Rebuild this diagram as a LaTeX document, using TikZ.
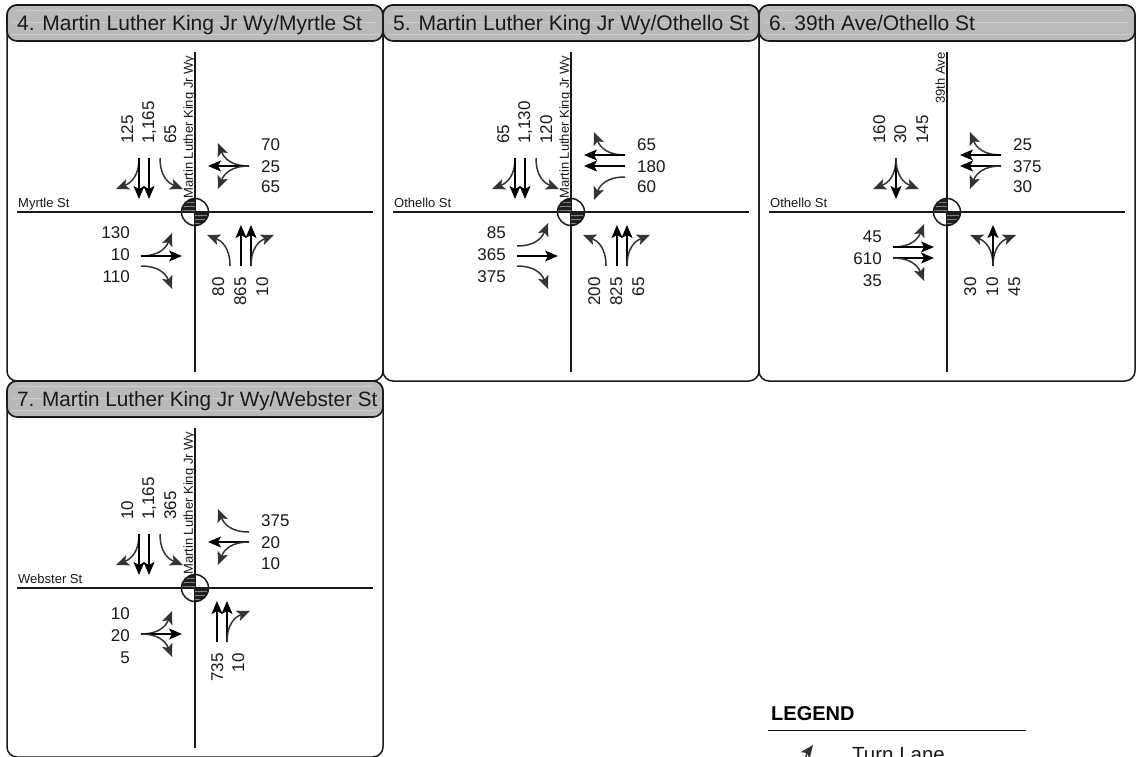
\documentclass[tikz,border=0pt]{standalone}
\usepackage{fontspec}
\setmainfont{Liberation Sans}
\usetikzlibrary{arrows.meta}
\definecolor{ink}{HTML}{1A1A1A}
\definecolor{headgray}{HTML}{B9B9B9}
\definecolor{streak}{HTML}{CCCCCC}
\tikzset{
  x=1pt,y=-1pt,
  border/.style={draw=ink,line width=1.5pt,rounded corners=10pt},
  head/.style={draw=ink,fill=headgray,line width=1.6pt,rounded corners=10pt},
  road/.style={draw=ink,line width=1.5pt},
  thru/.style={draw=black,line width=1.5pt,-{Stealth[length=13pt,width=11pt,inset=3pt]}},
  turn/.style={draw=black!80,line width=1.5pt,-{Stealth[length=13pt,width=11pt,inset=3pt]}},
  num/.style={inner sep=0pt,text=ink,font=\fontsize{17}{17}\selectfont,text height=12pt,text depth=0pt},
  street/.style={inner sep=0pt,text=ink,font=\fontsize{13}{13}\selectfont,text height=9.5pt,text depth=0pt},
  title/.style={inner sep=0pt,anchor=west,text=ink,font=\fontsize{21}{21}\selectfont,text height=15pt,text depth=0pt},
}
% arrows in the frame of a southbound approach; argument is the lane offset
\newcommand{\laneT}[1]{\draw[thru] (#1,-54) -- (#1,-13);}
\newcommand{\laneR}[1]{\draw[turn] (#1,-54) .. controls (#1,-36) and (#1-8,-29) .. (#1-23,-23);}
\newcommand{\laneL}[1]{\draw[turn] (#1,-54) .. controls (#1,-36) and (#1+8,-29) .. (#1+23,-23);}
\newcommand{\frombearing}[2]{\begin{scope}[rotate=#1]#2\end{scope}}
% panel frame: #1 id, #2 left, #3 top, #4 title
\newcommand{\panelframe}[4]{%
  \draw[border] (#2,#3) rectangle (#2+376,#3+376);
  \draw[head] (#2,#3) rectangle (#2+376,#3+36);
  \draw[streak,line width=0.7pt] (#2+10,#3+5) -- (#2+366,#3+5);
  \draw[streak,line width=0.7pt] (#2+6,#3+17) -- (#2+370,#3+17);
  \draw[streak,line width=0.7pt] (#2+4,#3+29) -- (#2+372,#3+29);
  \node[title] (#1-title) at (#2+10,#3+18) {#4};
}
% signal symbol and roads around the current origin
\newcommand{\crossing}[1]{%
  \coordinate (#1-n) at (0,-160);
  \coordinate (#1-s) at (0,160);
  \coordinate (#1-w) at (-178,0);
  \coordinate (#1-e) at (178,0);
  \draw[road] (#1-n) -- (#1-s);
  \draw[road] (#1-w) -- (#1-e);
  \begin{scope}
    \clip (0,0) circle[radius=13.5];
    \fill[black!88] (-13.5,-13.5) rectangle (0,0);
    \fill[black!88] (0,0) rectangle (13.5,13.5);
    \foreach \h in {-10,-6,-2}{\draw[black!50,line width=0.4pt] (-13.5,\h) -- (0,\h);}
    \foreach \h in {3,7,11}{\draw[black!50,line width=0.4pt] (0,\h) -- (13.5,\h);}
  \end{scope}
  \draw[road] (0,0) circle[radius=13.5];
}
% #1 id, #2-4 north labels, #5-7 east labels
\newcommand{\labelsN}[4]{%
  \node[num,rotate=90,anchor=west] (#1-n1) at (-68,-68) {#2};
  \node[num,rotate=90,anchor=west] (#1-n2) at (-47,-68) {#3};
  \node[num,rotate=90,anchor=west] (#1-n3) at (-25,-68) {#4};
}
\newcommand{\labelsE}[4]{%
  \node[num,anchor=west] (#1-e1) at (66,-68) {#2};
  \node[num,anchor=west] (#1-e2) at (66,-46) {#3};
  \node[num,anchor=west] (#1-e3) at (66,-25) {#4};
}
% #5 = y of first label
\newcommand{\labelsW}[5]{%
  \node[num,anchor=east] (#1-w1) at (-65,#5) {#2};
  \node[num,anchor=east] (#1-w2) at (-65,#5+22) {#3};
  \node[num,anchor=east] (#1-w3) at (-65,#5+44) {#4};
}
\newcommand{\labelsS}[4]{%
  \node[num,rotate=90,anchor=east] (#1-s1) at (23,65) {#2};
  \node[num,rotate=90,anchor=east] (#1-s2) at (45,65) {#3};
  \node[num,rotate=90,anchor=east] (#1-s3) at (67,65) {#4};
}
\newcommand{\namemlk}[1]{\node[street,rotate=90,anchor=west] (#1-v) at (-7,-13) {Martin Luther King Jr Wy};}
\newcommand{\namehoriz}[2]{\node[street,anchor=south west] (#1-h) at (-177,-4) {#2};}
\begin{document}
\begin{tikzpicture}
\useasboundingbox (0,0) rectangle (1138,757);
\clip (0,0) rectangle (1138,757);
\fill[white] (0,0) rectangle (1138,757);

\panelframe{a}{7}{5}{4. Martin Luther King Jr Wy/Myrtle St}
\panelframe{b}{383}{5}{\fontsize{21.1}{21.1}\selectfont 5. Martin Luther King Jr Wy/Othello St}
\panelframe{c}{759}{5}{6. 39th Ave/Othello St}
\panelframe{d}{7}{381}{\fontsize{20.7}{20.7}\selectfont 7. Martin Luther King Jr Wy/Webster St}

% Panel 4
\begin{scope}[shift={(195,212)}]
  \crossing{a}
  \namemlk{a}\namehoriz{a}{Myrtle St}
  \labelsN{a}{125}{1,165}{65}
  \labelsE{a}{70}{25}{65}
  \labelsW{a}{130}{10}{110}{20}
  \labelsS{a}{80}{865}{10}
  \laneR{-56}\laneT{-56}\laneT{-46}\laneL{-35}
  \frombearing{-90}{\laneR{-46}\laneT{-46}\laneL{-46}}
  \frombearing{90}{\laneL{-44}\laneT{-44}\laneR{-54}}
  \frombearing{180}{\laneL{-35}\laneT{-46}\laneT{-56}\laneR{-56}}
\end{scope}

% Panel 5
\begin{scope}[shift={(571,212)}]
  \crossing{b}
  \namemlk{b}\namehoriz{b}{Othello St}
  \labelsN{b}{65}{1,130}{120}
  \labelsE{b}{65}{180}{60}
  \labelsW{b}{85}{365}{375}{20}
  \labelsS{b}{200}{825}{65}
  \laneR{-56}\laneT{-56}\laneT{-46}\laneL{-35}
  \frombearing{-90}{\laneR{-57}\laneT{-57}\laneT{-46}\laneL{-35}}
  \frombearing{90}{\laneL{-34}\laneT{-44}\laneR{-54}}
  \frombearing{180}{\laneL{-35}\laneT{-46}\laneT{-56}\laneR{-56}}
\end{scope}

% Panel 6
\begin{scope}[shift={(947,212)}]
  \crossing{c}
  \node[street,rotate=90,anchor=west] (c-v) at (-7,-108) {39th Ave};
  \namehoriz{c}{Othello St}
  \labelsN{c}{160}{30}{145}
  \labelsE{c}{25}{375}{30}
  \labelsW{c}{45}{610}{35}{24}
  \labelsS{c}{30}{10}{45}
  \laneR{-51}\laneT{-51}\laneL{-51}
  \frombearing{-90}{\laneR{-57}\laneT{-57}\laneT{-46}\laneL{-46}}
  \frombearing{90}{\laneL{-35}\laneT{-35}\laneT{-46}\laneR{-46}}
  \frombearing{180}{\laneL{-46}\laneT{-46}\laneR{-46}}
\end{scope}

% Panel 7
\begin{scope}[shift={(195,588)}]
  \crossing{d}
  \namemlk{d}\namehoriz{d}{Webster St}
  \labelsN{d}{10}{1,165}{365}
  \labelsE{d}{375}{20}{10}
  \labelsW{d}{10}{20}{5}{25}
  \node[num,rotate=90,anchor=east] (d-s1) at (22,65) {735};
  \node[num,rotate=90,anchor=east] (d-s2) at (43,65) {10};
  \laneR{-56}\laneT{-46}\laneT{-56}\laneL{-35}
  \frombearing{-90}{\laneR{-56}\laneT{-46}\laneL{-46}}
  \frombearing{90}{\laneL{-46}\laneT{-46}\laneR{-46}}
  \frombearing{180}{\laneT{-22}\laneT{-32}\laneR{-32}}
\end{scope}

% Legend
\node[inner sep=0pt,anchor=west,text=black,font=\fontsize{20}{20}\bfseries\selectfont,text height=14.5pt,text depth=0pt] (legend) at (771,713) {LEGEND};
\coordinate (ruleL) at (768,730);
\coordinate (ruleR) at (1026,730);
\draw[ink,line width=1pt] (ruleL) -- (ruleR);
\coordinate (iconA) at (805,766);
\coordinate (iconB) at (813,745);
\draw[turn] (iconA) .. controls (805,758) and (807,753) .. (iconB);
\node[inner sep=0pt,anchor=base west,text=ink,font=\fontsize{20.5}{20.5}\selectfont] (turnlane) at (852,761.5) {Turn Lane};
\end{tikzpicture}
\end{document}
